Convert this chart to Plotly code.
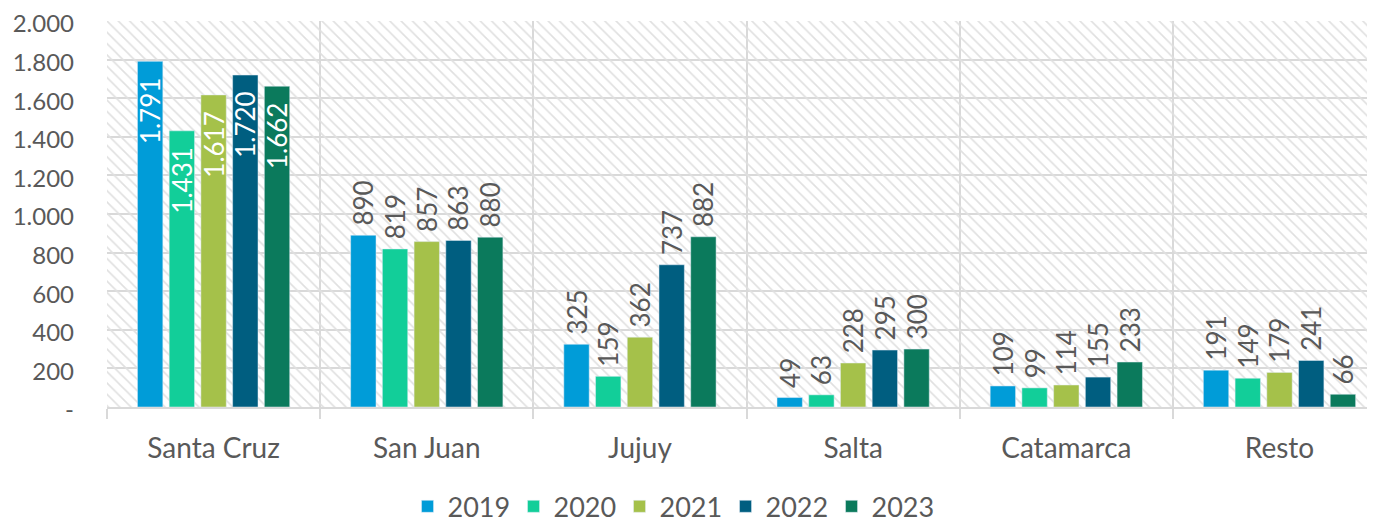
import plotly.graph_objects as go

provincias = ['Santa Cruz', 'San Juan', 'Jujuy', 'Salta', 'Catamarca', 'Resto']
anios = ['2019', '2020', '2021', '2022', '2023']

v2019 = [1791, 890, 325, 49, 109, 191]
v2020 = [1431, 819, 159, 63, 99, 149]
v2021 = [1617, 857, 362, 228, 114, 179]
v2022 = [1720, 863, 737, 295, 155, 241]
v2023 = [1662, 880, 882, 300, 233, 66]

colores = ['#009CD8', '#12CE99', '#A5C14A', '#005E80', '#0B7A5C']

y_ticks = [0, 200, 400, 600, 800, 1000, 1200, 1400, 1600, 1800, 2000]
y_max = 2000


def fmt(n):
    # separador de miles con punto
    return f'{n:,}'.replace(',', '.')


FONT = 'Lato'
GRIS = '#595959'
NBSP = '\u00a0'

fig = go.Figure()

# fondo rayado
fig.add_trace(go.Bar(
    x=provincias, y=[y_max] * len(provincias), offset=-0.5, width=1,
    marker=dict(color='rgba(0,0,0,0)', line=dict(width=0),
                pattern=dict(shape='\\', size=8, solidity=0.2,
                             fgcolor='#e0e0e0', fillmode='replace')),
    showlegend=False, hoverinfo='skip'))

series = [v2019, v2020, v2021, v2022, v2023]
for anio, vals, col in zip(anios, series, colores):
    pos = ['inside' if v > 1200 else 'outside' for v in vals]
    txt = [fmt(v) + NBSP * 2 if v > 1200 else NBSP + fmt(v) for v in vals]
    fig.add_trace(go.Bar(
        x=provincias, y=vals, name=anio, marker_color=col,
        text=txt, textposition=pos, textangle=-90,
        insidetextanchor='end', constraintext='none', cliponaxis=False,
        insidetextfont=dict(color='white', size=26, family=FONT),
        outsidetextfont=dict(color=GRIS, size=26, family=FONT)))

# la pagina tiene 8px de margen, la figura se desplaza
fig.update_layout(
    width=1367, height=514,
    barmode='group', bargap=0.256, bargroupgap=0.2,
    plot_bgcolor='white', paper_bgcolor='white',
    margin=dict(l=99, r=0, t=13, b=115, autoexpand=False),
    font=dict(family=FONT, color=GRIS, size=26),
    legend=dict(orientation='h', x=0.446, xanchor='center', y=-0.195, yanchor='top',
                font=dict(size=27, color=GRIS), entrywidth=61),
    xaxis=dict(range=[-0.5, 5.448], tickson='boundaries', showgrid=True,
               gridcolor='#d9d9d9', gridwidth=1.5, showline=True,
               linecolor='#d9d9d9', linewidth=2, ticks='outside', ticklen=10,
               tickcolor='#d9d9d9', tickwidth=1.5, ticklabelstandoff=15,
               tickfont=dict(size=28, color=GRIS), automargin=False),
    yaxis=dict(range=[0, y_max], tickvals=y_ticks,
               ticktext=['-' if t == 0 else fmt(t) for t in y_ticks],
               showgrid=True, gridcolor='#d9d9d9', gridwidth=1.5,
               zeroline=False, ticklabelstandoff=32, automargin=False,
               ticklabeloverflow='allow', ticklabelshift=3,
               tickfont=dict(size=24, color=GRIS)),
)

fig.write_html('out.html')
